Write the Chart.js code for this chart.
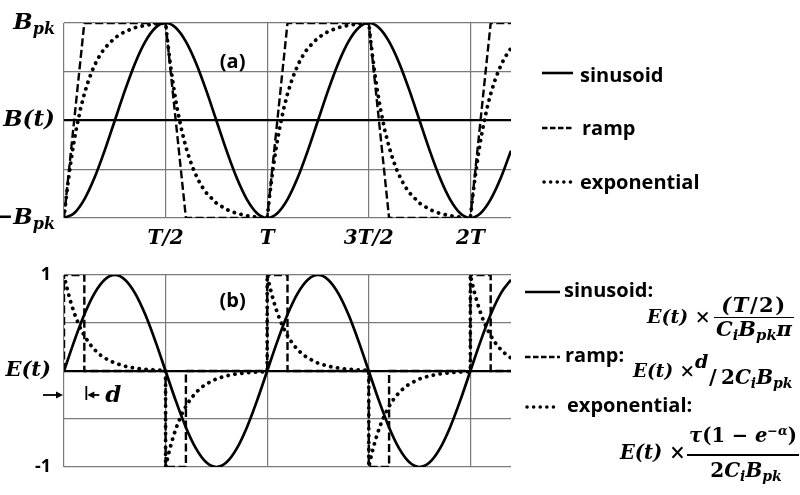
<!DOCTYPE html>
<html><head><meta charset="utf-8">
<script src="https://cdn.jsdelivr.net/npm/chart.js@4.4.1/dist/chart.umd.min.js"></script>
<style>
html,body{margin:0;padding:0;background:#fff;}
#wrap{position:relative;width:800px;height:495px;overflow:hidden;background:#fff;}
canvas{position:absolute;left:0;}
.lg{position:absolute;font-family:'Open Sans',sans-serif;font-weight:700;font-size:20px;line-height:1.362;color:#000;white-space:nowrap;}
.m{position:absolute;font-family:'DejaVu Serif',serif;font-weight:700;font-style:italic;white-space:nowrap;line-height:1;color:#000;}
.up{font-style:normal;}
.sb{font-size:70%;position:relative;top:0.3em;}
.sp{font-size:65%;position:relative;top:-0.55em;}
.bar{position:absolute;height:1.8px;background:#000;}
svg.ln{position:absolute;overflow:visible;}
</style></head>
<body><div id="wrap">
<canvas id="ca" width="800" height="250" style="top:0"></canvas>
<canvas id="cb" width="800" height="245" style="top:250px"></canvas>

<!-- legend (a) -->
<svg class="ln" style="left:542px;top:68px" width="32" height="10"><line x1="0" y1="5" x2="31" y2="5" stroke="#000" stroke-width="2.6"/></svg>
<div class="lg" style="left:580px;top:61px">sinusoid</div>
<svg class="ln" style="left:542px;top:123px" width="32" height="10"><line x1="0" y1="5" x2="31" y2="5" stroke="#000" stroke-width="2.4" stroke-dasharray="5.5 2.5"/></svg>
<div class="lg" style="left:582px;top:114px">ramp</div>
<svg class="ln" style="left:542px;top:177px" width="32" height="10"><line x1="2" y1="5" x2="31" y2="5" stroke="#000" stroke-width="3.5" stroke-linecap="round" stroke-dasharray="0.1 6.5"/></svg>
<div class="lg" style="left:580px;top:168px">exponential</div>

<!-- legend (b) -->
<svg class="ln" style="left:525px;top:287px" width="36" height="10"><line x1="0" y1="5" x2="35" y2="5" stroke="#000" stroke-width="2.6"/></svg>
<div class="lg" style="left:564px;top:276px">sinusoid:</div>
<div class="m" style="left:647px;top:307px;font-size:19px">E(t) <span class="up">×</span></div>
<div class="m" style="left:713px;top:294px;width:82px;text-align:center;font-size:21px;letter-spacing:1.5px">(T<span class="up">/2)</span></div>
<div class="bar" style="left:714px;top:316.5px;width:80px"></div>
<div class="m" style="left:713px;top:318px;width:82px;text-align:center;font-size:21px">C<span class="sb">i</span>B<span class="sb">pk</span>π</div>

<svg class="ln" style="left:525px;top:352px" width="36" height="10"><line x1="0" y1="5" x2="35" y2="5" stroke="#000" stroke-width="2.4" stroke-dasharray="5.5 2.5"/></svg>
<div class="lg" style="left:565px;top:341px">ramp:</div>
<div class="m" style="left:633px;top:362px;font-size:18.5px">E(t) <span class="up">×</span></div>
<div class="m" style="left:695px;top:352px;font-size:19px">d</div>
<div class="m" style="left:709px;top:366px;font-size:21px"><span class="up">/</span></div>
<div class="m" style="left:721px;top:367px;font-size:20px"><span class="up">2</span>C<span class="sb">i</span>B<span class="sb">pk</span></div>

<svg class="ln" style="left:525px;top:402px" width="36" height="10"><line x1="2" y1="5" x2="35" y2="5" stroke="#000" stroke-width="3.5" stroke-linecap="round" stroke-dasharray="0.1 6.5"/></svg>
<div class="lg" style="left:567px;top:391px">exponential:</div>
<div class="m" style="left:620px;top:443px;font-size:19.5px">E(t) <span class="up">×</span></div>
<div class="m" style="left:686px;top:426px;width:114px;text-align:center;font-size:19.5px">τ<span class="up">(1 − </span>e<span class="sp"><span class="up">−</span>α</span><span class="up">)</span></div>
<div class="bar" style="left:687px;top:454px;width:112px"></div>
<div class="m" style="left:689px;top:460px;width:114px;text-align:center;font-size:20px"><span class="up">2</span>C<span class="sb">i</span>B<span class="sb">pk</span></div>
</div>
<script>
// ---- data (time in units of T) ----
const T_SIN = [0,0.05,0.1,0.15,0.2,0.25,0.3,0.35,0.4,0.45,0.5,0.55,0.6,0.65,0.7,0.75,0.8,0.85,0.9,0.95,1,1.05,1.1,1.15,1.2,1.25,1.3,1.35,1.4,1.45,1.5,1.55,1.6,1.65,1.7,1.75,1.8,1.85,1.9,1.95,2,2.05,2.1,2.15,2.2];
const A_SIN = [-1,-0.951,-0.809,-0.588,-0.309,0,0.309,0.588,0.809,0.951,1,0.951,0.809,0.588,0.309,0,-0.309,-0.588,-0.809,-0.951,-1,
  -0.951,-0.809,-0.588,-0.309,0,0.309,0.588,0.809,0.951,1,0.951,0.809,0.588,0.309,0,-0.309,-0.588,-0.809,-0.951,-1,
  -0.951,-0.809,-0.588,-0.309];
const B_SIN = [0,0.309,0.588,0.809,0.951,1,0.951,0.809,0.588,0.309,0,-0.309,-0.588,-0.809,-0.951,-1,-0.951,-0.809,-0.588,-0.309,0,
  0.309,0.588,0.809,0.951,1,0.951,0.809,0.588,0.309,0,-0.309,-0.588,-0.809,-0.951,-1,-0.951,-0.809,-0.588,-0.309,0,
  0.309,0.588,0.809,0.951];

const T_RAMP_A = [0,0.1,0.5,0.6,1,1.1,1.5,1.6,2,2.1,2.2];
const A_RAMP = [-1,1,1,-1,-1,1,1,-1,-1,1,1];
const T_RAMP_B = [0,0,0.1,0.1,0.5,0.5,0.6,0.6,1,1,1.1,1.1,1.5,1.5,1.6,1.6,2,2,2.1,2.1,2.2];
const B_RAMP = [0,1,1,0,0,-1,-1,0,0,1,1,0,0,-1,-1,0,0,1,1,0,0];

const T_EXP_A = [0,0.01,0.02,0.03,0.04,0.05,0.06,0.08,0.1,0.12,0.14,0.16,0.18,0.2,0.25,0.3,0.35,0.4,0.45,0.5,
  0.51,0.52,0.53,0.54,0.55,0.56,0.58,0.6,0.62,0.64,0.66,0.68,0.7,0.75,0.8,0.85,0.9,0.95,1,
  1.01,1.02,1.03,1.04,1.05,1.06,1.08,1.1,1.12,1.14,1.16,1.18,1.2,1.25,1.3,1.35,1.4,1.45,1.5,
  1.51,1.52,1.53,1.54,1.55,1.56,1.58,1.6,1.62,1.64,1.66,1.68,1.7,1.75,1.8,1.85,1.9,1.95,2,
  2.01,2.02,2.03,2.04,2.05,2.06,2.08,2.1,2.12,2.14,2.16,2.18,2.2];
const A_EXP = [-1,-0.808,-0.635,-0.478,-0.336,-0.208,-0.092,0.109,0.273,0.407,0.517,0.607,0.681,0.741,0.848,0.913,0.953,0.977,0.991,1,
  0.808,0.635,0.478,0.336,0.208,0.092,-0.109,-0.273,-0.407,-0.517,-0.607,-0.681,-0.741,-0.848,-0.913,-0.953,-0.977,-0.991,-1,
  -0.808,-0.635,-0.478,-0.336,-0.208,-0.092,0.109,0.273,0.407,0.517,0.607,0.681,0.741,0.848,0.913,0.953,0.977,0.991,1,
  0.808,0.635,0.478,0.336,0.208,0.092,-0.109,-0.273,-0.407,-0.517,-0.607,-0.681,-0.741,-0.848,-0.913,-0.953,-0.977,-0.991,-1,
  -0.808,-0.635,-0.478,-0.336,-0.208,-0.092,0.109,0.273,0.407,0.517,0.607,0.681,0.741];

const T_EXP_B = [0,0.01,0.02,0.03,0.04,0.05,0.06,0.08,0.1,0.12,0.14,0.16,0.18,0.2,0.25,0.3,0.35,0.4,0.45,0.5,
  0.5,0.51,0.52,0.53,0.54,0.55,0.56,0.58,0.6,0.62,0.64,0.66,0.68,0.7,0.75,0.8,0.85,0.9,0.95,1,
  1,1.01,1.02,1.03,1.04,1.05,1.06,1.08,1.1,1.12,1.14,1.16,1.18,1.2,1.25,1.3,1.35,1.4,1.45,1.5,
  1.5,1.51,1.52,1.53,1.54,1.55,1.56,1.58,1.6,1.62,1.64,1.66,1.68,1.7,1.75,1.8,1.85,1.9,1.95,2,
  2,2.01,2.02,2.03,2.04,2.05,2.06,2.08,2.1,2.12,2.14,2.16,2.18,2.2];
const B_EXP = [1,0.905,0.819,0.741,0.670,0.607,0.549,0.449,0.368,0.301,0.247,0.202,0.165,0.135,0.082,0.050,0.030,0.018,0.011,0.007,
  -1,-0.905,-0.819,-0.741,-0.670,-0.607,-0.549,-0.449,-0.368,-0.301,-0.247,-0.202,-0.165,-0.135,-0.082,-0.050,-0.030,-0.018,-0.011,-0.007,
  1,0.905,0.819,0.741,0.670,0.607,0.549,0.449,0.368,0.301,0.247,0.202,0.165,0.135,0.082,0.050,0.030,0.018,0.011,0.007,
  -1,-0.905,-0.819,-0.741,-0.670,-0.607,-0.549,-0.449,-0.368,-0.301,-0.247,-0.202,-0.165,-0.135,-0.082,-0.050,-0.030,-0.018,-0.011,-0.007,
  1,0.905,0.819,0.741,0.670,0.607,0.549,0.449,0.368,0.301,0.247,0.202,0.165,0.135];

const X_TICKS = [0,0.5,1,1.5,2];
const X_TICK_LABELS = ['','T/2','T','3T/2','2T'];
const Y_TICKS = [-1,-0.5,0,0.5,1];
const A_Y_VALUES = [1,0,-1];
const A_Y_BASE = ['B','B(t)','\u2212B'];
const A_Y_SUB = ['pk','','pk'];
const B_Y_LABELS = {'1':'1','0':'E(t)','-1':'-1'};
const RAMP_D = 0.1;

// ---- helpers ----
const pts = (t, v) => t.map((x, i) => ({x: x, y: v[i]}));
const GRID = '#7a7a7a';
const MATH = '"DejaVu Serif", serif';
const SANS = '"Open Sans", sans-serif';

function datasets(tSin, sin, tRamp, ramp, tExp, exp) {
  return [
    {label:'sinusoid', data: pts(tSin, sin), borderColor:'#000', borderWidth:2.7, pointRadius:0, cubicInterpolationMode:'monotone', fill:false},
    {label:'ramp', data: pts(tRamp, ramp), borderColor:'#000', borderWidth:2.4, borderDash:[8,3.5], pointRadius:0, tension:0, fill:false},
    {label:'exponential', data: pts(tExp, exp), borderColor:'#000', borderWidth:3.8, borderDash:[0.1,6.8], borderCapStyle:'round', pointRadius:0, tension:0, fill:false}
  ];
}
function xScale(showLabels, h) {
  return {
    type:'linear', min:0, max:2.2,
    afterBuildTicks: s => { s.ticks = X_TICKS.map(v => ({value:v})); },
    afterFit: s => { s.height = h; },
    grid:{color:GRID, lineWidth:1.2, drawTicks:false},
    border:{display:false},
    ticks:{display:showLabels, autoSkip:false, maxRotation:0, color:'#000', padding:9,
      font:{family:MATH, weight:'bold', style:'italic', size:20},
      callback:(v, i) => X_TICK_LABELS[i]}
  };
}
function yGrid() {
  return {color: c => (c.tick && c.tick.value === 0) ? '#000' : GRID,
          lineWidth: c => (c.tick && c.tick.value === 0) ? 2.3 : 1.2, drawTicks:false};
}

const labelA = {
  id:'labelA',
  afterDraw(chart) {
    const ctx = chart.ctx, y = chart.scales.y, x = chart.scales.x;
    ctx.save();
    ctx.fillStyle = '#000';
    ctx.textBaseline = 'middle';
    ctx.textAlign = 'left';
    const right = chart.chartArea.left - 9;
    A_Y_VALUES.forEach((v, i) => {
      const py = y.getPixelForValue(v);
      ctx.font = 'italic bold 23px ' + MATH;
      const wb = ctx.measureText(A_Y_BASE[i]).width;
      ctx.font = 'italic bold 16px ' + MATH;
      const ws = ctx.measureText(A_Y_SUB[i]).width;
      const x0 = right - wb - ws;
      ctx.font = 'italic bold 23px ' + MATH;
      ctx.fillText(A_Y_BASE[i], x0, py);
      ctx.font = 'italic bold 16px ' + MATH;
      ctx.fillText(A_Y_SUB[i], x0 + wb, py + 7);
    });
    ctx.font = 'bold 20px ' + SANS;
    ctx.textAlign = 'center';
    ctx.fillText('(a)', x.getPixelForValue(0.83), y.getPixelForValue(0.6));
    ctx.restore();
  }
};
const labelB = {
  id:'labelB',
  afterDraw(chart) {
    const ctx = chart.ctx, y = chart.scales.y, x = chart.scales.x;
    ctx.save();
    ctx.fillStyle = '#000'; ctx.strokeStyle = '#000';
    ctx.font = 'bold 20px ' + SANS;
    ctx.textAlign = 'center'; ctx.textBaseline = 'middle';
    ctx.fillText('(b)', x.getPixelForValue(0.83), y.getPixelForValue(0.725));
    const ay = y.getPixelForValue(-0.25);
    const x0 = x.getPixelForValue(0), xd = x.getPixelForValue(RAMP_D);
    ctx.lineWidth = 1.8;
    ctx.beginPath(); ctx.moveTo(x0 - 21, ay); ctx.lineTo(x0 - 6, ay); ctx.stroke();
    ctx.beginPath(); ctx.moveTo(x0 - 1, ay); ctx.lineTo(x0 - 8, ay - 3.5); ctx.lineTo(x0 - 8, ay + 3.5); ctx.closePath(); ctx.fill();
    ctx.beginPath(); ctx.moveTo(xd + 2, ay - 9); ctx.lineTo(xd + 2, ay + 5); ctx.stroke();
    ctx.beginPath(); ctx.moveTo(xd + 15, ay); ctx.lineTo(xd + 8, ay); ctx.stroke();
    ctx.beginPath(); ctx.moveTo(xd + 3, ay); ctx.lineTo(xd + 10, ay - 3.5); ctx.lineTo(xd + 10, ay + 3.5); ctx.closePath(); ctx.fill();
    ctx.font = 'italic bold 23px ' + MATH;
    ctx.textAlign = 'left';
    ctx.fillText('d', xd + 21, ay + 1);
    ctx.restore();
  }
};

new Chart(document.getElementById('ca'), {
  type:'line',
  data:{datasets: datasets(T_SIN, A_SIN, T_RAMP_A, A_RAMP, T_EXP_A, A_EXP)},
  options:{
    responsive:false, animation:false, devicePixelRatio:1,
    layout:{padding:{left:0, top:23, right:289, bottom:0}},
    plugins:{legend:{display:false}, tooltip:{enabled:false}},
    scales:{
      x: xScale(true, 32),
      y: {min:-1, max:1,
          afterBuildTicks: s => { s.ticks = Y_TICKS.map(v => ({value:v})); },
          afterFit: s => { s.width = 64; },
          grid: yGrid(), border:{display:false}, ticks:{display:false}}
    }
  },
  plugins:[labelA]
});

new Chart(document.getElementById('cb'), {
  type:'line',
  data:{datasets: datasets(T_SIN, B_SIN, T_RAMP_B, B_RAMP, T_EXP_B, B_EXP)},
  options:{
    responsive:false, animation:false, devicePixelRatio:1,
    layout:{padding:{left:0, top:25, right:289, bottom:28}},
    plugins:{legend:{display:false}, tooltip:{enabled:false}},
    scales:{
      x: xScale(false, 0),
      y: {min:-1, max:1,
          afterBuildTicks: s => { s.ticks = Y_TICKS.map(v => ({value:v})); },
          afterFit: s => { s.width = 64; },
          grid: yGrid(), border:{display:false},
          ticks:{display:true, padding:13, color:'#000', autoSkip:false,
            callback: v => B_Y_LABELS[String(v)] || '',
            font: c => (c.tick && c.tick.value === 0)
              ? {family:MATH, style:'italic', weight:'bold', size:21}
              : {family:SANS, weight:'bold', size:18}}}
    }
  },
  plugins:[labelB]
});
</script>
</body></html>
